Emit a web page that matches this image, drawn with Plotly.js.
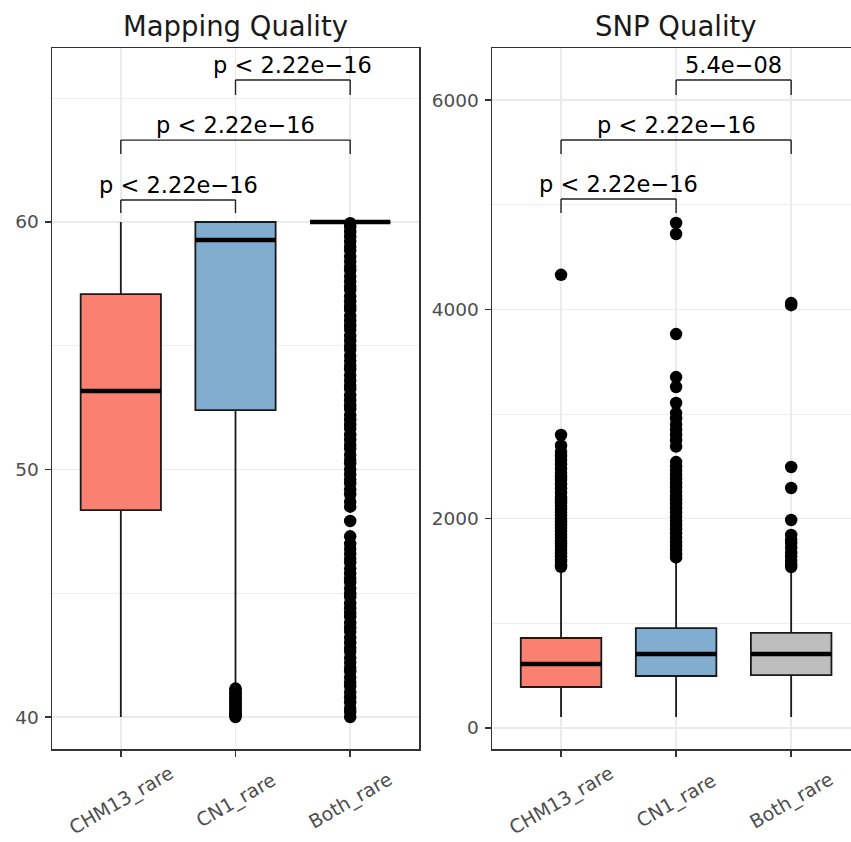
<!DOCTYPE html>
<html>
<head>
<meta charset="utf-8">
<script src="https://cdn.plot.ly/plotly-3.0.1.min.js"></script>
<style>html,body{margin:0;padding:0;background:#fff;}#chart{width:851px;height:842px;}</style>
</head>
<body>
<div id="chart"></div>
<script>
// ---------- data ----------
const categories = ['CHM13_rare', 'CN1_rare', 'Both_rare'];
const boxColors = ['#FA8072', '#80ADD0', '#BEBEBE'];

// Mapping Quality (left panel) box statistics
const mqLower  = [40.0, 41.2, 60.0];
const mqQ1     = [48.36, 52.40, 60.0];
const mqMedian = [53.17, 59.27, 60.0];
const mqQ3     = [57.09, 60.0, 60.0];
const mqUpper  = [60.0, 60.0, 60.0];
const mqOutCHM13 = [];
const mqOutCN1 = [40.0, 40.05, 40.1, 40.15, 40.2, 40.3, 40.35, 40.4, 40.5, 40.55, 40.6, 40.7, 40.75, 40.8, 40.9, 40.95, 41.0, 41.1, 41.15];
const mqOutBoth = [40.0, 40.2, 40.35, 40.6, 40.8, 41.0, 41.25, 41.4, 41.6, 41.85, 42.0, 42.2, 42.4, 42.65, 42.8, 43.0, 43.2, 43.45, 43.6, 43.8,
  44.05, 44.2, 44.4, 44.6, 44.85, 45.0, 45.2, 45.45, 45.6, 45.8, 46.0, 46.25, 46.4, 46.6, 46.8, 47.0, 47.3, 47.92, 48.5, 48.7,
  49.0, 49.2, 49.45, 49.6, 49.8, 50.0, 50.25, 50.4, 50.6, 50.85, 51.0, 51.2, 51.4, 51.65, 51.8, 52.0, 52.2, 52.45, 52.6, 52.8,
  53.0, 53.25, 53.4, 53.6, 53.8, 54.05, 54.2, 54.4, 54.6, 54.85, 55.0, 55.2, 55.4, 55.65, 55.8, 56.0, 56.2, 56.45, 56.6, 56.8,
  57.0, 57.25, 57.4, 57.6, 57.8, 58.05, 58.2, 58.4, 58.6, 58.85, 59.0, 59.2, 59.4, 59.6, 59.8, 59.95];

// SNP Quality (right panel) box statistics
const sqLower  = [105, 105, 105];
const sqQ1     = [392, 497, 506];
const sqMedian = [611, 707, 707];
const sqQ3     = [860, 955, 908];
const sqUpper  = [1530, 1610, 1510];
const sqOutCHM13 = [1540, 1560, 1590, 1610, 1640, 1670, 1700, 1730, 1760, 1790, 1820, 1850, 1880, 1910, 1940, 1970, 2000, 2030, 2060,
  2090, 2120, 2150, 2180, 2210, 2250, 2290, 2330, 2370, 2400, 2440, 2480, 2520, 2560, 2600, 2640, 2700, 2800, 4330];
const sqOutCN1 = [1630, 1660, 1700, 1740, 1780, 1820, 1860, 1900, 1940, 1980, 2020, 2060, 2100, 2140, 2180, 2220, 2260, 2300, 2340,
  2380, 2420, 2460, 2500, 2541, 2690, 2750, 2800, 2850, 2900, 2960, 3009, 3105, 3258, 3353, 3764, 4720, 4825];
const sqOutBoth = [1538, 1570, 1600, 1640, 1672, 1720, 1767, 1800, 1844, 1987, 2293, 2494, 4040, 4060];

const pairs = [[0, 1], [0, 2], [1, 2]];
const mqLabels = ['p < 2.22e\u221216', 'p < 2.22e\u221216', 'p < 2.22e\u221216'];
const sqLabels = ['p < 2.22e\u221216', 'p < 2.22e\u221216', '5.4e\u221208'];
const panelTitles = ['Mapping Quality', 'SNP Quality'];

// ---------- build ----------
const FONT = 'DejaVu Sans, Arial, sans-serif';
const traces = [];
const shapes = [];
const annotations = [];

function addPanel(xa, ya, lower, q1, med, q3, upper, outs) {
  categories.forEach((c, i) => {
    traces.push({
      type: 'box', xaxis: xa, yaxis: ya,
      x: [c], q1: [q1[i]], median: [med[i]], q3: [q3[i]],
      lowerfence: [lower[i]], upperfence: [upper[i]],
      boxpoints: false, width: 0.7, whiskerwidth: 0,
      fillcolor: boxColors[i],
      line: {color: '#1A1A1A', width: 1.8},
      showlegend: false, hoverinfo: 'skip'
    });
    if (outs[i].length) {
      traces.push({
        type: 'scatter', mode: 'markers', xaxis: xa, yaxis: ya,
        x: outs[i].map(() => c), y: outs[i],
        marker: {color: '#000', size: 12.5},
        showlegend: false, hoverinfo: 'skip'
      });
    }
    // thick median line
    shapes.push({type: 'line', xref: xa, yref: ya, x0: i - 0.35, x1: i + 0.35, y0: med[i], y1: med[i],
      line: {color: '#000', width: 4.5}});
  });
}
addPanel('x', 'y', mqLower, mqQ1, mqMedian, mqQ3, mqUpper, [mqOutCHM13, mqOutCN1, mqOutBoth]);
addPanel('x2', 'y2', sqLower, sqQ1, sqMedian, sqQ3, sqUpper, [sqOutCHM13, sqOutCN1, sqOutBoth]);

function addBrackets(xa, ya, bars, tips, labels) {
  pairs.forEach((p, k) => {
    const [a, b] = p;
    const ln = {color: '#222', width: 1.4};
    shapes.push({type: 'line', xref: xa, yref: ya, x0: a, x1: b, y0: bars[k], y1: bars[k], line: ln});
    shapes.push({type: 'line', xref: xa, yref: ya, x0: a, x1: a, y0: tips[k], y1: bars[k], line: ln});
    shapes.push({type: 'line', xref: xa, yref: ya, x0: b, x1: b, y0: tips[k], y1: bars[k], line: ln});
    annotations.push({xref: xa, yref: ya, x: (a + b) / 2, y: bars[k], text: labels[k], showarrow: false,
      xanchor: 'center', yanchor: 'bottom', yshift: 0, font: {family: FONT, size: 22.5, color: '#000'}});
  });
}
addBrackets('x', 'y', [60.89, 63.31, 65.74], [60.36, 62.75, 65.13], mqLabels);
addBrackets('x2', 'y2', [5054, 5618, 6191], [4920, 5484, 6048], sqLabels);

// x tick labels (rotated, centered under ticks)
['x', 'x2'].forEach(xa => {
  categories.forEach((c, i) => {
    annotations.push({xref: xa, yref: 'paper', x: i, y: 1 - 800 / 842, text: c, showarrow: false,
      textangle: -30, xanchor: 'center', yanchor: 'middle',
      font: {family: FONT, size: 19, color: '#4D4D4D'}});
  });
});
// panel titles
['x', 'x2'].forEach((xa, k) => {
  annotations.push({xref: xa, yref: 'paper', x: 1, y: 1 - 26 / 842, text: panelTitles[k], showarrow: false,
    xanchor: 'center', yanchor: 'middle', font: {family: FONT, size: 27.5, color: '#1A1A1A'}});
});

const gridC = '#EBEBEB', lineC = '#333333';
function xAxis(domain, range, anchor) {
  return {domain: domain, range: range, type: 'category', categoryarray: categories, categoryorder: 'array',
    anchor: anchor, showgrid: true, gridcolor: gridC, gridwidth: 1.5, zeroline: false,
    showline: true, mirror: true, linecolor: lineC, linewidth: 1.5,
    ticks: 'outside', ticklen: 6, tickwidth: 1.5, tickcolor: lineC, showticklabels: false, fixedrange: true};
}
function yAxis(range, dtick, minorDtick, anchor, mirror) {
  return {domain: [1 - 749 / 842, 1 - 48 / 842], range: range, anchor: anchor, dtick: dtick, tick0: 0,
    showgrid: true, gridcolor: gridC, gridwidth: 1.5, zeroline: false,
    minor: {dtick: minorDtick, tick0: 0, showgrid: true, gridcolor: gridC, gridwidth: 0.8, ticks: ''},
    showline: true, mirror: mirror, linecolor: lineC, linewidth: 1.5,
    ticks: 'outside', ticklen: 6, tickwidth: 1.5, tickcolor: lineC, ticklabelstandoff: 2,
    tickfont: {family: FONT, size: 18.5, color: '#4D4D4D'}, fixedrange: true};
}

const layout = {
  width: 851, height: 842, margin: {l: 0, r: 0, t: 0, b: 0},
  paper_bgcolor: '#fff', plot_bgcolor: '#fff', boxmode: 'overlay', showlegend: false,
  xaxis: xAxis([52 / 851, 419 / 851], [-0.6, 2.6], 'y'),
  yaxis: yAxis([38.71, 67.03], 10, 5, 'x', true),
  xaxis2: xAxis([492 / 851, 1], [-0.6, 2.52], 'y2'),
  yaxis2: yAxis([-200.6, 6497], 2000, 1000, 'x2', false),
  shapes: shapes, annotations: annotations
};

Plotly.newPlot('chart', traces, layout, {displayModeBar: false, staticPlot: true});
</script>
</body>
</html>
